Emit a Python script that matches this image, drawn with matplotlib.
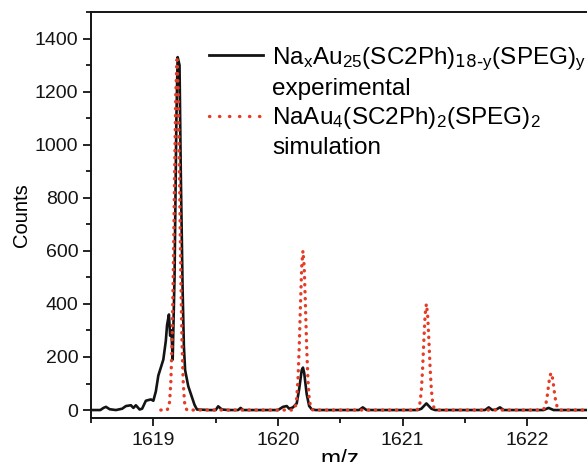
#!/usr/bin/env python3
"""Mass spectrum zoom: experimental NaxAu25 peak vs. NaAu4 isotope simulation."""

import matplotlib

matplotlib.use("Agg")
import matplotlib.pyplot as plt
from matplotlib.lines import Line2D
from matplotlib.ticker import MultipleLocator

plt.rcParams["font.family"] = ["Liberation Sans", "DejaVu Sans"]
plt.rcParams["mathtext.default"] = "regular"

# experimental trace
exp_mz = [
    1618.50, 1618.54, 1618.575, 1618.60, 1618.62, 1618.65, 1618.70, 1618.75,
    1618.78, 1618.82, 1618.84, 1618.86, 1618.89, 1618.91, 1618.94, 1618.98,
    1619.00, 1619.02, 1619.04, 1619.06, 1619.08, 1619.10, 1619.11, 1619.125,
    1619.135, 1619.145, 1619.155, 1619.17, 1619.185, 1619.195, 1619.21,
    1619.22, 1619.235, 1619.245, 1619.255, 1619.28, 1619.305, 1619.33,
    1619.35, 1619.45, 1619.50, 1619.52, 1619.55, 1619.60, 1619.68, 1619.70,
    1619.72, 1619.90, 1620.00, 1620.04, 1620.07, 1620.09, 1620.12, 1620.15,
    1620.17, 1620.19, 1620.20, 1620.21, 1620.23, 1620.25, 1620.27, 1620.30,
    1620.65, 1620.68, 1620.71, 1621.12, 1621.15, 1621.19, 1621.23, 1621.26,
    1621.66, 1621.69, 1621.72, 1621.75, 1621.78, 1621.81, 1622.13, 1622.17,
    1622.21, 1622.50,
]
exp_counts = [
    0, 0, 0, 8, 12, 3, 0, 5,
    15, 18, 8, 18, 2, 5, 35, 40,
    35, 70, 130, 160, 190, 260, 320, 360,
    280, 300, 190, 500, 1100, 1330, 1300,
    900, 450, 240, 150, 90, 55, 20,
    2, 0, 0, 14, 2, 0, 0, 8,
    0, 0, 0, 12, 15, 5, 10, 25,
    80, 150, 160, 140, 60, 15, 3, 0,
    0, 10, 0, 0, 5, 25, 5, 0,
    0, 10, 0, 2, 10, 0, 0, 8,
    0, 0,
]

# simulated isotope pattern
sim_mz = [
    1619.06, 1619.11,
    1619.12, 1619.13, 1619.14, 1619.15, 1619.16, 1619.17, 1619.18, 1619.19,
    1619.20, 1619.21, 1619.22, 1619.23, 1619.24, 1619.25, 1619.26, 1619.27,
    1620.12,
    1620.13, 1620.14, 1620.15, 1620.16, 1620.17, 1620.18, 1620.19, 1620.20,
    1620.21, 1620.22, 1620.23, 1620.24, 1620.25, 1620.26, 1620.27, 1620.28,
    1621.11,
    1621.12, 1621.13, 1621.14, 1621.15, 1621.16, 1621.17, 1621.18, 1621.19,
    1621.20, 1621.21, 1621.22, 1621.23, 1621.24, 1621.25, 1621.26, 1621.27,
    1622.11,
    1622.12, 1622.13, 1622.14, 1622.15, 1622.16, 1622.17, 1622.18, 1622.19,
    1622.20, 1622.21, 1622.22, 1622.23, 1622.24, 1622.25, 1622.26, 1622.27,
    1622.50,
]
sim_counts = [
    0, 0,
    8, 30, 100, 250, 520, 870, 1190, 1320,
    1190, 870, 520, 250, 100, 30, 8, 0,
    0,
    4, 15, 45, 115, 235, 395, 540, 600,
    540, 395, 235, 115, 45, 15, 4, 0,
    0,
    3, 10, 30, 76, 158, 265, 360, 400,
    360, 265, 158, 76, 30, 10, 3, 0,
    0,
    1, 3, 11, 27, 55, 93, 126, 140,
    126, 93, 55, 27, 11, 3, 1, 0,
    0,
]

exp_label = r"Na$_x$Au$_{25}$(SC2Ph)$_{\text{18-}y}$(SPEG)$_y$"
sim_label = r"NaAu$_4$(SC2Ph)$_2$(SPEG)$_2$"

RED = "#e63b26"
INK = "#141414"
DOTS = (0, (0.1, 2.0))

fig = plt.figure(figsize=(5.87, 4.62), dpi=100)
ax = fig.add_axes([91 / 587, 44 / 462, 498.7 / 587, 406 / 462])

ax.plot(exp_mz, exp_counts, color=INK, lw=1.9, solid_joinstyle="round", zorder=3)
ax.plot(sim_mz, sim_counts, color=RED, lw=2.4, linestyle=DOTS,
        dash_capstyle="round", zorder=4)

ax.set_xlim(1618.5, 1622.5)
ax.set_ylim(-30, 1500)
ax.xaxis.set_major_locator(MultipleLocator(1))
ax.xaxis.set_minor_locator(MultipleLocator(0.5))
ax.yaxis.set_major_locator(MultipleLocator(200))
ax.yaxis.set_minor_locator(MultipleLocator(100))
ax.tick_params(which="both", direction="out", width=1.3, labelsize=14, colors=INK)
ax.tick_params(which="major", length=6, pad=3)
ax.tick_params(which="minor", length=3.5)
ax.tick_params(axis="x", which="major", pad=4)
for side in ("left", "bottom", "top", "right"):
    ax.spines[side].set_linewidth(1.4)
    ax.spines[side].set_color(INK)

ax.set_xlabel("m/z", fontsize=17.5, labelpad=0)
ax.set_ylabel("Counts", fontsize=14.5, labelpad=3)

handles = [
    Line2D([], [], color=INK, lw=2.0),
    Line2D([], [], color="none"),
    Line2D([], [], color=RED, lw=2.4, linestyle=(0, (0.1, 2.9)), dash_capstyle="round"),
    Line2D([], [], color="none"),
]
labels = [exp_label, "experimental", sim_label, "simulation"]
ax.legend(handles, labels, loc="upper left", bbox_to_anchor=(0.236, 0.918),
          frameon=False, fontsize=17.5, handlelength=2.25, handletextpad=0.35,
          labelspacing=0.22, borderaxespad=0, borderpad=0)

fig.savefig("out.png", dpi=100)
